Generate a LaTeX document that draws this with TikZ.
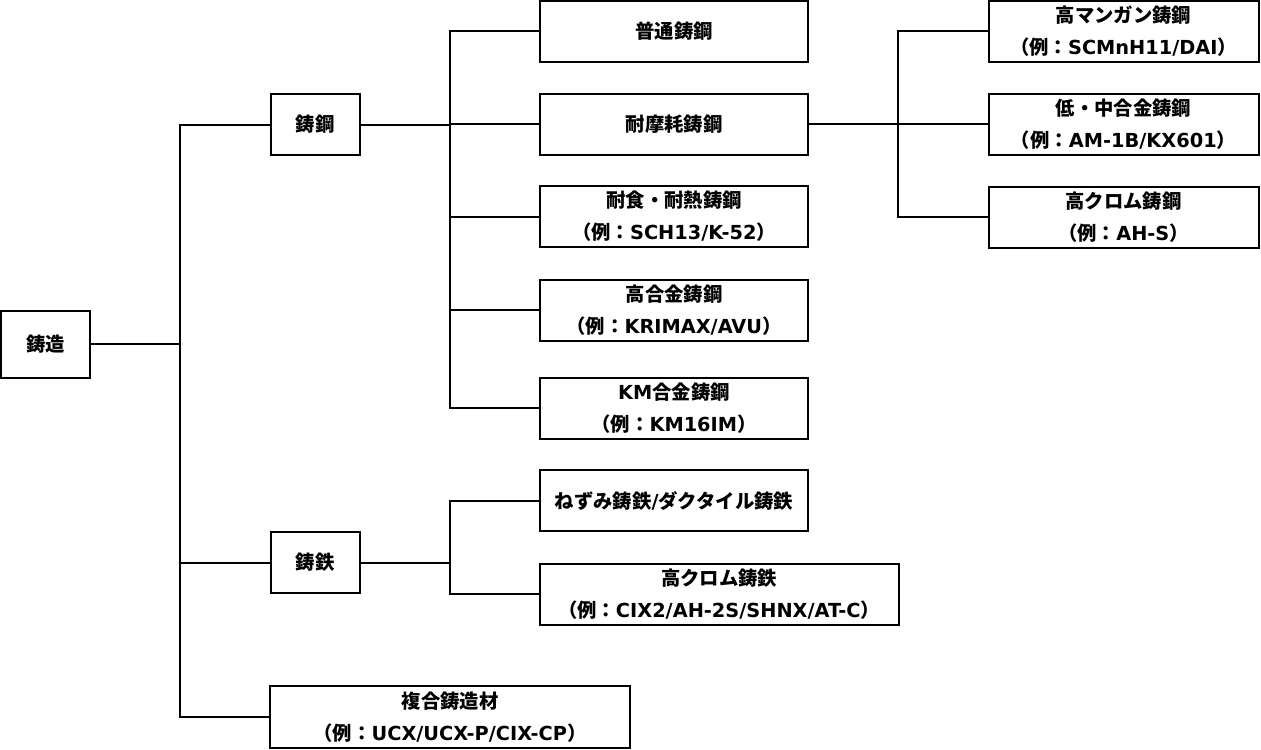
\documentclass[tikz,border=0pt]{standalone}
\usepackage{fontspec}
\setmainfont{Noto Sans CJK JP}
\newfontfamily\latfont{DejaVu Sans}
\newcommand{\lat}[1]{{\latfont #1}}
\usetikzlibrary{positioning}

\begin{document}
\begin{tikzpicture}[
      x=0.75pt, y=-0.75pt,
      line width=1.5pt,
      box/.style={draw, rectangle, align=center, inner sep=0pt,
        font=\fontsize{14.5}{24}\selectfont\bfseries},
      smallbox/.style={box, minimum width=89pt*0.75, minimum height=61pt*0.75},
      midbox/.style={box, minimum width=268pt*0.75, minimum height=61pt*0.75}
    ]
      \useasboundingbox (0,0) rectangle (1261,750);
      % root and first level
      \node[smallbox, minimum height=67pt*0.75] (casting) at (45.5,344) {鋳造};
      \node[smallbox] (steel) at (315,124.5) {鋳鋼};
      \node[smallbox] (iron) at (315,562.5) {鋳鉄};
      \node[box, minimum width=360pt*0.75, minimum height=62pt*0.75] (composite) at (450,717) {複合鋳造材\\（例：\lat{UCX/UCX-P/CIX-CP}）};
      % cast steel
      \node[midbox] (normal) at (674,31) {普通鋳鋼};
      \node[midbox] (wear) at (674,124) {耐摩耗鋳鋼};
      \node[midbox] (heat) at (674,216.5) {耐食・耐熱鋳鋼\\（例：\lat{SCH13/K-52}）};
      \node[midbox] (highalloy) at (674,310) {高合金鋳鋼\\（例：\lat{KRIMAX/AVU}）};
      \node[midbox] (kmalloy) at (674,408) {\lat{KM}合金鋳鋼\\（例：\lat{KM16IM}）};
      % cast iron
      \node[midbox] (ductile) at (674,500.5) {ねずみ鋳鉄\lat{/}ダクタイル鋳鉄};
      \node[box, minimum width=359pt*0.75, minimum height=61pt*0.75] (hicriron) at (719,594) {高クロム鋳鉄\\（例：\lat{CIX2/AH-2S/SHNX/AT-C}）};
      % wear resistant
      \node[box, minimum width=270pt*0.75, minimum height=61pt*0.75] (himn) at (1123.5,31) {高マンガン鋳鋼\\（例：\lat{SCMnH11/DAI}）};
      \node[box, minimum width=270pt*0.75, minimum height=61pt*0.75] (lowmid) at (1123.5,124) {低・中合金鋳鋼\\（例：\lat{AM-1B/KX601}）};
      \node[box, minimum width=270pt*0.75, minimum height=61pt*0.75] (hicrsteel) at (1123.5,217) {高クロム鋳鋼\\（例：\lat{AH-S}）};

      \coordinate (j1) at (180,344);
      \coordinate (j2) at (450,124.5);
      \coordinate (j3) at (450,562.5);
      \coordinate (j4) at (898,124);

      \draw (casting.east) -- (j1);
      \draw (steel.west) -| (j1) |- (composite.west);
      \draw (iron.west) -- (j1 |- iron.west);

      \draw (steel.east) -- (j2);
      \draw (normal.west) -| (j2) |- (kmalloy.west);
      \draw (wear.west) -- (j2 |- wear.west);
      \draw (heat.west) -- (j2 |- heat.west);
      \draw (highalloy.west) -- (j2 |- highalloy.west);

      \draw (iron.east) -- (j3);
      \draw (ductile.west) -| (j3) |- (hicriron.west);

      \draw (wear.east) -- (j4);
      \draw (himn.west) -| (j4) |- (hicrsteel.west);
      \draw (lowmid.west) -- (j4 |- lowmid.west);
    \end{tikzpicture}
\end{document}
